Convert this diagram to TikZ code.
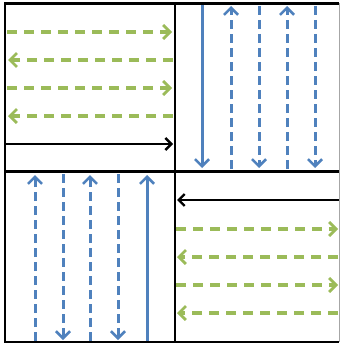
\documentclass[tikz,border=0pt]{standalone}
\usetikzlibrary{arrows.meta}
\definecolor{ggreen}{RGB}{155,187,89}
\definecolor{gblue}{RGB}{79,129,189}
\begin{document}
\begin{tikzpicture}[x=1pt,y=-1pt,
  frame/.style={black,line width=2.6pt},
  blk/.style={black,line width=2.6pt,-{Straight Barb[length=6pt,width=12pt,line width=2.4pt]}},
  grn/.style={ggreen,line width=4pt,dash pattern=on 10pt off 7pt,-{Straight Barb[length=7pt,width=14pt,line width=2.8pt]}},
  blu/.style={gblue,line width=3pt,-{Straight Barb[length=7pt,width=14pt,line width=2.6pt]}},
  blud/.style={blu,dash pattern=on 9pt off 5pt}]
\useasboundingbox (0,0) rectangle (341,345);
% frame
\draw[frame] (339,3.5) -- (5,3.5) -- (5,342) -- (339,342);
\draw[gray!70,line width=0.8pt] (339,3.5) -- (339,342);
\draw[frame] (175,3.5) -- (175,342);
\draw[frame] (5,171.5) -- (339,171.5);
% top-left
\draw[blk] (5,144) -- (173,144);
\draw[grn] (7,32) -- (172,32);
\draw[grn] (173,60) -- (8,60);
\draw[grn] (7,88) -- (172,88);
\draw[grn] (173,116) -- (8,116);
% top-right
\draw[blu] (202,5) -- (202,168);
\draw[blud] (231,169) -- (231,6);
\draw[blud] (259,6) -- (259,168);
\draw[blud] (287,169) -- (287,6);
\draw[blud] (315,6) -- (315,168);
% bottom-left
\draw[blud] (35,341) -- (35,175);
\draw[blud] (63,174) -- (63,340);
\draw[blud] (90,341) -- (90,175);
\draw[blud] (118,174) -- (118,340);
\draw[blu] (147,341) -- (147,175);
% bottom-right
\draw[blk] (339,200) -- (177,200);
\draw[grn] (176,229) -- (338,229);
\draw[grn] (338,257) -- (177,257);
\draw[grn] (176,285) -- (338,285);
\draw[grn] (338,313) -- (177,313);
\end{tikzpicture}
\end{document}
